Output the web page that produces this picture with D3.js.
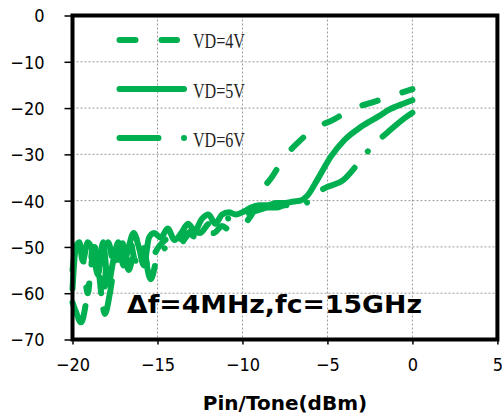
<!DOCTYPE html>
<html><head><meta charset="utf-8">
<script src="https://cdn.jsdelivr.net/npm/d3@7"></script>
<style>body{margin:0;background:#fff}svg{display:block}</style>
</head><body>
<svg id="c" width="502" height="419"></svg>
<script>
const xTicks = [-20,-15,-10,-5,0,5];
const yTicks = [0,-10,-20,-30,-40,-50,-60,-70];
const seriesNames = ["VD=4V","VD=5V","VD=6V"];
const annotation = "Δf=4MHz,fc=15GHz";
const xTitle = "Pin/Tone(dBm)";

const vd4X = [-20,-19.7,-19.4,-19.1,-18.8,-18.5,-18.2,-17.9,-17.5,-17.1,-16.7,-16.3,-15.9,-15.5,-15.1,-14.7,-14.2,-13.7,-13.2,-12.7,-12.2,-11.7,-11.2,-10.7,-10.2,-9.4,-8.8,-8.25,-7.5,-6.75,-5.7,-4.7,-3.45,-2.45,-1.1,0];
const vd4Y = [-55,-48,-52,-60,-50,-54,-62,-49,-55,-50,-47,-53,-49,-55,-51,-49,-48,-50,-47,-48,-46,-47,-45.5,-46.5,-46,-42.6,-37.6,-34.8,-30.5,-27.5,-24.3,-22.6,-20,-18.9,-17.2,-15.9];

const vd5X = [-20,-19.8,-19.6,-19.4,-19.1,-18.8,-18.5,-18.2,-17.9,-17.6,-17.3,-17.0,-16.7,-16.4,-16.1,-15.8,-15.5,-15.2,-14.8,-14.4,-14.0,-13.6,-13.2,-12.8,-12.4,-12.0,-11.6,-11.2,-10.8,-10.4,-10.0,-9.5,-9.0,-8.5,-8.0,-7.5,-7.0,-6.6,-6.2,-5.6,-4.8,-4.0,-3.0,-2.0,-1.4,-0.5,0];
const vd5Y = [-59,-50,-49,-53,-49,-51,-56,-49,-58,-53,-49,-54,-50,-47,-50,-54,-48,-47,-48,-46,-48.5,-47,-45,-46.5,-44,-43,-45,-43,-42.5,-43,-42.5,-41.5,-41,-41,-40.5,-40.5,-40.2,-40,-39,-35.5,-30.5,-26.9,-24,-21.8,-20.4,-19,-18.3];

const vd6X = [-20,-19.8,-19.5,-19,-18.7,-18.4,-18.1,-17.8,-17.5,-17.1,-16.7,-16.2,-15.8,-15.4,-15.0,-14.5,-14.0,-13.5,-13.0,-12.5,-12.0,-11.5,-11.0,-10.5,-10.0,-9.5,-9.0,-8.5,-8.0,-7.5,-7.0,-6.5,-6.0,-5.3,-4.05,-3.2,-2.45,-1.45,-0.4,0];
const vd6Y = [-62,-64,-66.3,-57,-50,-57,-64.5,-60,-53,-49,-55,-48,-51,-57,-52,-50,-47.5,-48.5,-46.5,-47,-45,-44.5,-44,-43.5,-43,-42.5,-42,-41.5,-41.5,-41,-41,-40.8,-40,-37.6,-35.5,-32,-28.6,-25.2,-22,-21];

const green = "#00b050";
const dashes = ["16,26", null, "39,21,0.01,21"];
const series = [
  {name: seriesNames[0], x: vd4X, y: vd4Y, dash: dashes[0]},
  {name: seriesNames[1], x: vd5X, y: vd5Y, dash: dashes[1]},
  {name: seriesNames[2], x: vd6X, y: vd6Y, dash: dashes[2]}
];

const svg = d3.select("#c");
const L = 72.5, R = 497.4, T = 15.5, B = 339.5;
const x = d3.scaleLinear().domain([-20,5]).range([L,R]);
const y = d3.scaleLinear().domain([-70,0]).range([B,T]);
const sansC = "'DejaVu Sans Condensed','DejaVu Sans',sans-serif";

// grid
const g = svg.append("g");
g.selectAll(".vg").data(xTicks.slice(1,-1)).enter().append("line")
  .attr("x1", d=>x(d)).attr("x2", d=>x(d)).attr("y1", T).attr("y2", B)
  .attr("stroke", "#9a9a9a").attr("stroke-width", 1).attr("stroke-dasharray", "2,2");
g.selectAll(".hg").data(yTicks.slice(1,-1)).enter().append("line")
  .attr("x1", L).attr("x2", R).attr("y1", d=>y(d)).attr("y2", d=>y(d))
  .attr("stroke", "#9a9a9a").attr("stroke-width", 1).attr("stroke-dasharray", "2,2");

// axes
const yAxis = d3.axisLeft(y).tickValues(yTicks).tickSize(8).tickPadding(20).tickFormat(d3.format("d"));
const ya = svg.append("g").attr("transform", `translate(${L},0)`).call(yAxis);
const xAxis = d3.axisBottom(x).tickValues(xTicks).tickSize(5).tickPadding(14).tickFormat(d3.format("d"));
const xa = svg.append("g").attr("transform", `translate(0,${B})`).call(xAxis);
[ya, xa].forEach(a => {
  a.select(".domain").remove();
  a.selectAll(".tick line").attr("stroke", "#000").attr("stroke-width", 1.5);
  a.selectAll(".tick text").attr("font-family", sansC).attr("font-size", 18).attr("fill", "#000");
});
ya.selectAll(".tick text").attr("dy", "0.36em").attr("x", -28);

// lines
const line = d3.line().x(d=>x(d[0])).y(d=>y(d[1])).curve(d3.curveMonotoneX);
const lg = svg.append("g");
series.forEach(s => {
  const pts = s.x.map((v,i)=>[v, s.y[i]]);
  const p = lg.append("path").datum(pts).attr("d", line)
    .attr("fill", "none").attr("stroke", green).attr("stroke-width", 6)
    .attr("stroke-linecap", "round").attr("stroke-linejoin", "round");
  if (s.dash) p.attr("stroke-dasharray", s.dash);
});

// border
svg.append("rect").attr("x", L).attr("y", T).attr("width", R-L).attr("height", B-T)
  .attr("fill", "none").attr("stroke", "#000").attr("stroke-width", 4);

// legend
const legY = [40, 89, 138];
const legBase = [48, 98, 147];
series.forEach((s,i) => {
  const l = svg.append("line").attr("x1", 119.5).attr("x2", i===2 ? 184.1 : (i===0 ? 177 : 184))
    .attr("y1", legY[i]).attr("y2", legY[i])
    .attr("stroke", green).attr("stroke-width", 6).attr("stroke-linecap", "round");
  if (i===0) l.attr("stroke-dasharray", "16,26");
  if (i===2) l.attr("stroke-dasharray", "39,25.5,0.01,100");
  svg.append("text").attr("x", 193).attr("y", legBase[i]).text(s.name)
    .attr("font-family", "'Liberation Serif',serif").attr("font-size", 21)
    .attr("textLength", 52).attr("lengthAdjust", "spacingAndGlyphs").attr("fill", "#222");
});

// annotation
svg.append("text").attr("x", 127).attr("y", 313).text(annotation)
  .attr("font-family", "'DejaVu Sans',sans-serif").attr("font-weight", "bold").attr("font-size", 25)
  .attr("textLength", 295).attr("lengthAdjust", "spacingAndGlyphs")
  .attr("fill", "#000");

// x title
svg.append("text").attr("x", 285).attr("y", 410).attr("text-anchor", "middle").text(xTitle)
  .attr("font-family", "'DejaVu Sans',sans-serif").attr("font-weight", "bold").attr("font-size", 20)
  .attr("fill", "#000");
</script>
</body></html>
